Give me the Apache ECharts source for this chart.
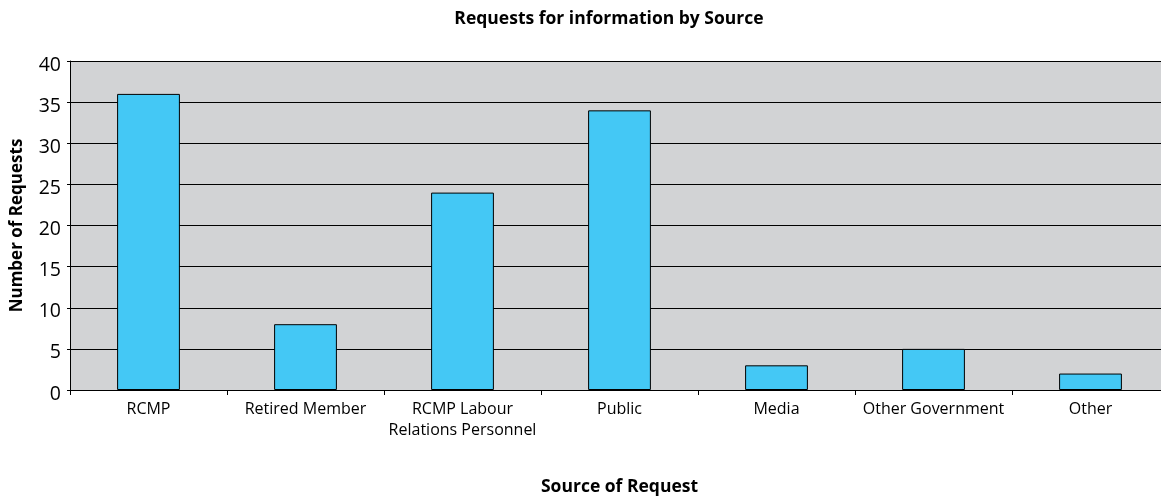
<!DOCTYPE html>
<html><head><meta charset="utf-8">
<script src="https://cdn.jsdelivr.net/npm/echarts@6/dist/echarts.min.js"></script>
<style>html,body{margin:0;padding:0;background:#fff}#c{width:1161px;height:496px}</style>
</head><body><div id="c"></div>
<script>
const categories = ["RCMP", "Retired Member", "RCMP Labour\nRelations Personnel", "Public", "Media", "Other Government", "Other"];
const requests = [36, 8, 24, 34, 3, 5, 2];
const yTicks = [0, 5, 10, 15, 20, 25, 30, 35, 40];

const FONT = "'Open Sans', 'Noto Sans', sans-serif";
const chart = echarts.init(document.getElementById('c'), null, {renderer: 'canvas'});
chart.setOption({
  animation: false,
  textStyle: {fontFamily: FONT},
  title: {
    text: 'Requests for information by Source',
    left: 604, top: 5, textAlign: 'center',
    textStyle: {fontFamily: FONT, fontSize: 17.5, fontWeight: 'bold', color: '#000'}
  },
  grid: {left: 70, width: 1099, top: 61, height: 329, backgroundColor: '#D2D3D5', show: true, borderWidth: 0,
         containLabel: false, outerBoundsMode: 'none'},
  xAxis: {
    type: 'category',
    data: categories,
    name: 'Source of Request',
    nameLocation: 'middle',
    nameGap: 88,
    nameTextStyle: {fontFamily: FONT, fontSize: 17.5, fontWeight: 'bold', color: '#000'},
    axisLine: {lineStyle: {color: '#000', width: 1}},
    axisTick: {show: true, length: 5, lineStyle: {color: '#000'}},
    axisLabel: {fontFamily: FONT, fontSize: 16, color: '#000', margin: 9, lineHeight: 21, interval: 0}
  },
  yAxis: {
    type: 'value',
    min: yTicks[0], max: yTicks[yTicks.length - 1], interval: 5,
    name: 'Number of Requests',
    nameLocation: 'middle',
    nameGap: 44,
    nameTextStyle: {fontFamily: FONT, fontSize: 17, fontWeight: 'bold', color: '#000'},
    axisLine: {show: true, lineStyle: {color: '#000', width: 1}},
    axisTick: {show: true, length: 3, lineStyle: {color: '#000'}},
    axisLabel: {fontFamily: FONT, fontSize: 19.5, color: '#000', margin: 9, verticalAlign: 'top', lineHeight: 8},
    splitLine: {lineStyle: {color: '#000', width: 1}}
  },
  series: [{
    type: 'bar',
    data: requests,
    barWidth: '40%',
    itemStyle: {color: '#44C8F5', borderColor: '#000', borderWidth: 1}
  }]
});
</script></body></html>
